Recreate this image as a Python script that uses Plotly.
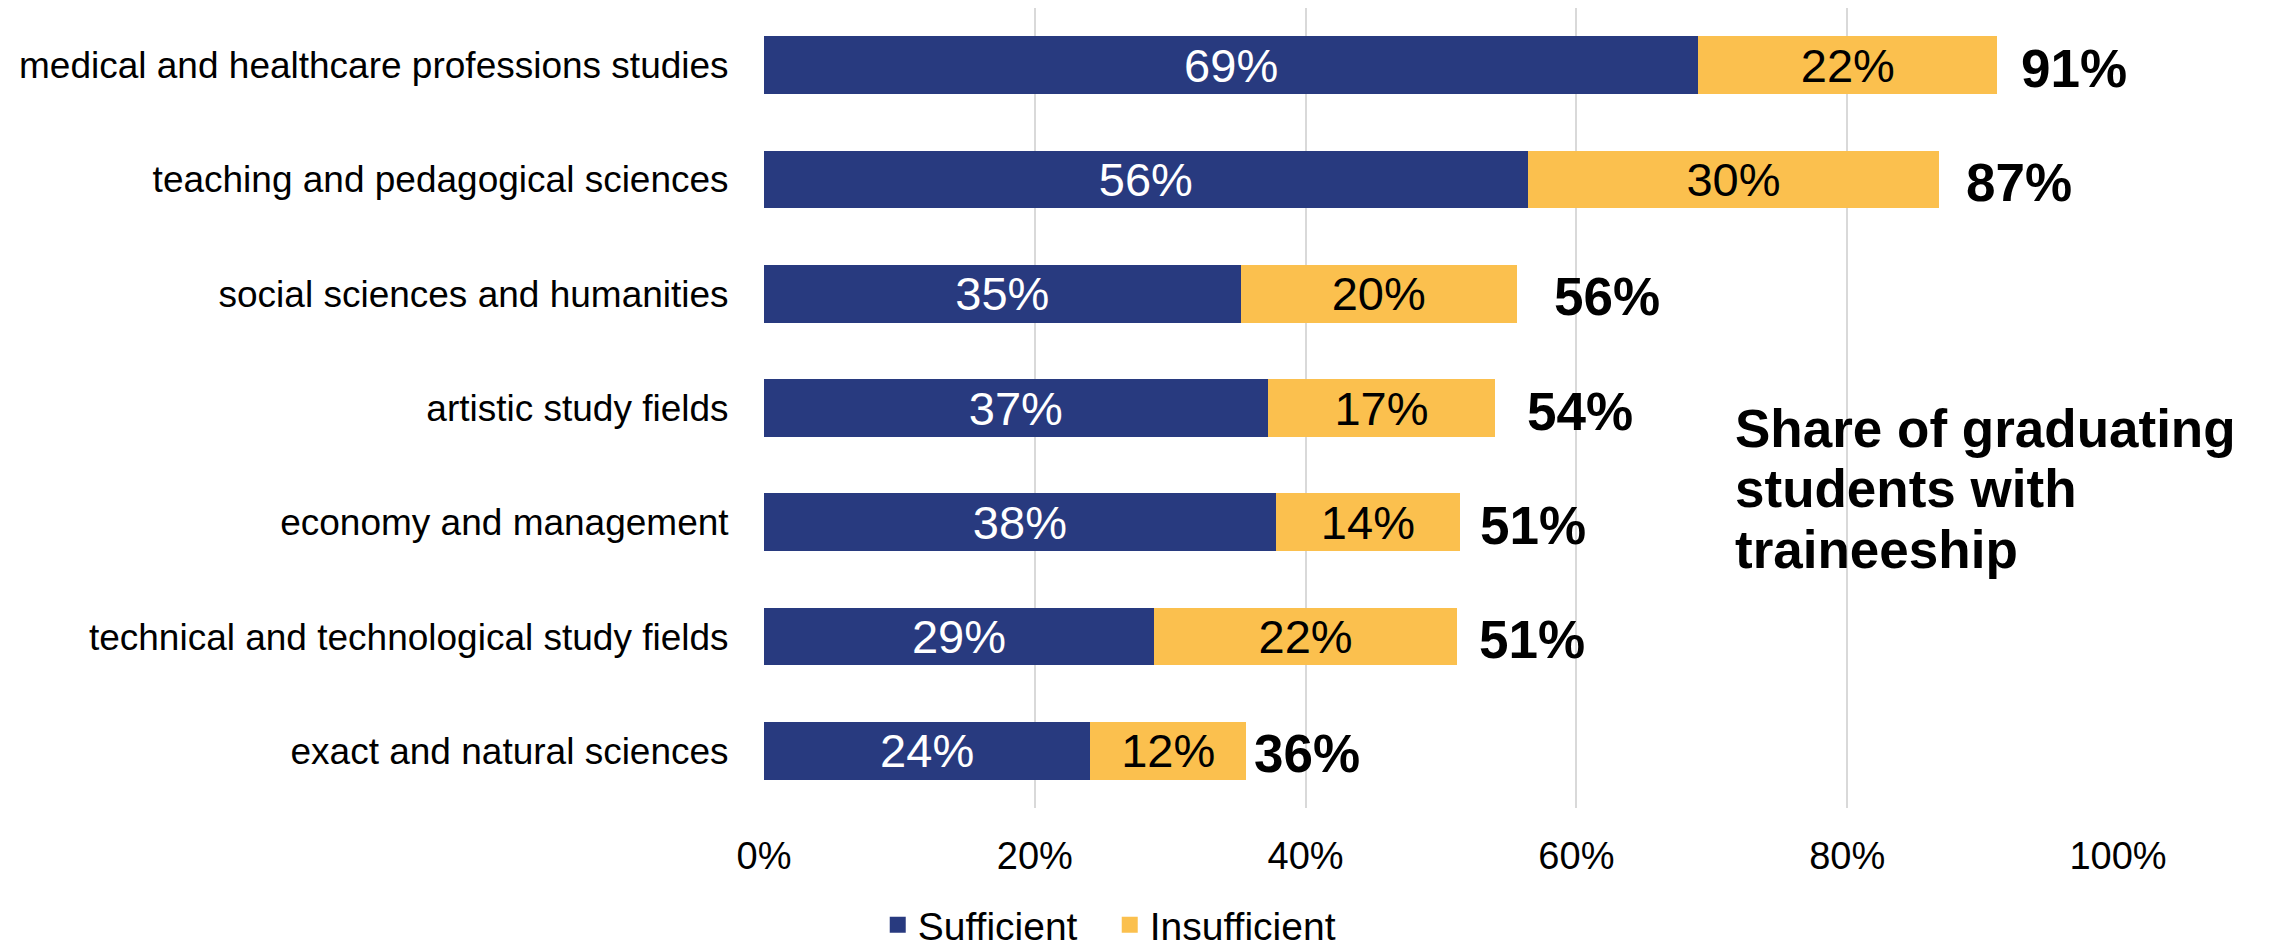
import plotly.graph_objects as go

categories = [
    "medical and healthcare professions studies",
    "teaching and pedagogical sciences",
    "social sciences and humanities",
    "artistic study fields",
    "economy and management",
    "technical and technological study fields",
    "exact and natural sciences",
]
sufficient = [69.0, 56.4, 35.2, 37.2, 37.8, 28.8, 24.1]
insufficient = [22.1, 30.4, 20.4, 16.8, 13.6, 22.4, 11.5]
series_names = ["Sufficient", "Insufficient"]
tick_vals = [0, 20, 40, 60, 80, 100]
tick_text = ["0%", "20%", "40%", "60%", "80%", "100%"]
title_lines = ["Share of graduating", "students with", "traineeship"]

# style: pixel offset of each total label from its bar end
total_label_shift = [22, 25, 35, 30, 18, 20, 6]

totals = [s + i for s, i in zip(sufficient, insufficient)]

FONT = "Liberation Sans, Arial, sans-serif"
NAVY = "#283A7F"
GOLD = "#FBC04E"
colors = [NAVY, GOLD]
text_colors = ["white", "black"]

fig = go.Figure()
for name, vals, col, tcol in zip(series_names, [sufficient, insufficient], colors, text_colors):
    fig.add_trace(go.Bar(
        y=categories, x=vals, orientation="h", name=name,
        marker=dict(color=col, line=dict(width=0)),
        text=[f"{v:.0f}%" for v in vals], textposition="inside",
        insidetextanchor="middle", constraintext="none",
        textfont=dict(family=FONT, size=47, color=tcol),
        hoverinfo="skip", showlegend=False, legendgroup=name,
    ))
# legend entries (square swatches)
for name, col in zip(series_names, colors):
    fig.add_trace(go.Scatter(
        x=[None], y=[None], mode="markers", name=name, legendgroup=name,
        marker=dict(symbol="square", size=20, color=col), showlegend=True,
    ))

annotations = []
for cat, tot, sh in zip(categories, totals, total_label_shift):
    annotations.append(dict(
        x=tot, y=cat, xref="x", yref="y", text=f"<b>{tot:.0f}%</b>",
        showarrow=False, xanchor="left", yanchor="middle", xshift=sh, yshift=-3,
        font=dict(family=FONT, size=53, color="black"),
    ))
for line, yp in zip(title_lines, [0.474, 0.400, 0.3235]):
    annotations.append(dict(
        x=0.716, y=yp, xref="paper", yref="paper", text=f"<b>{line}</b>",
        showarrow=False, xanchor="left", yanchor="middle",
        font=dict(family=FONT, size=53, color="black"),
    ))

fig.update_layout(
    width=2270, height=945,
    margin=dict(l=756, r=160, t=0, b=145, pad=0, autoexpand=False),
    barmode="stack", bargap=0.494,
    plot_bgcolor="white", paper_bgcolor="white",
    font=dict(family=FONT, size=37, color="black"),
    xaxis=dict(
        range=[0, 100], tickvals=tick_vals, ticktext=tick_text,
        showgrid=True, gridcolor="#D9D9D9", gridwidth=2,
        zeroline=False, showline=False,
        ticks="outside", ticklen=14, tickcolor="rgba(0,0,0,0)",
        tickfont=dict(family=FONT, size=38, color="black"),
        fixedrange=True, automargin=False,
    ),
    yaxis=dict(
        autorange="reversed", showgrid=False, zeroline=False, showline=False,
        ticks="outside", ticklen=27, tickcolor="rgba(0,0,0,0)",
        tickfont=dict(family=FONT, size=37, color="black"),
        fixedrange=True, automargin=False,
    ),
    legend=dict(
        orientation="h", x=0.084, xanchor="left", y=-0.146, yanchor="middle",
        font=dict(family=FONT, size=39, color="black"),
        traceorder="normal", bgcolor="rgba(0,0,0,0)", entrywidth=187,
    ),
    annotations=annotations,
    showlegend=True,
)

fig.write_html("out.html")
